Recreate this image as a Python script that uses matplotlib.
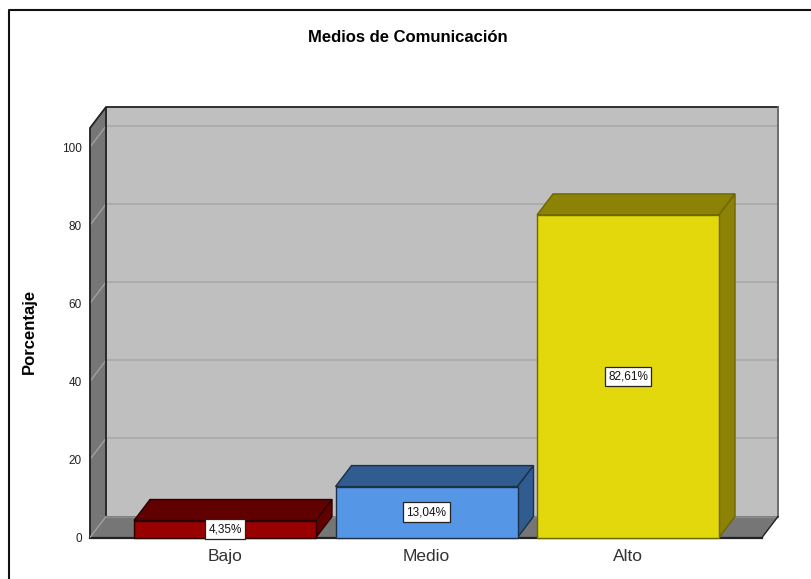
import matplotlib
matplotlib.use('Agg')
import matplotlib.pyplot as plt
from matplotlib.lines import Line2D
from matplotlib.patches import Polygon

plt.rcParams['font.family'] = ['Liberation Sans', 'DejaVu Sans']

# datos
categorias = ['Bajo', 'Medio', 'Alto']
porcentajes = [4.35, 13.04, 82.61]
etiquetas = ['4,35%', '13,04%', '82,61%']
ticks_y = [0, 20, 40, 60, 80, 100]
col_frente = ['#990000', '#5596e6', '#e3d80c']
col_lado = ['#600000', '#305c90', '#8c8205']
borde = ['#2a0000', '#1c3048', '#6e6600']

W, H = 812, 579
fig = plt.figure(figsize=(W / 100, H / 100), dpi=100)

# ejes en pixeles: frente abajo-izq (90,537.5), fondo arriba-der (778,107)
ax = fig.add_axes([90 / W, 1 - 537.5 / H, (778 - 90) / W, (537.5 - 107) / H])
px_x = 201.5
px_y = 3.905
ax.set_xlim(-135 / px_x, (778 - 225) / px_x)
ax.set_ylim(0, 430.5 / px_y)

# profundidad 3D en unidades de datos
dx = 16 / px_x
dy = 21 / px_y
x0, x1 = ax.get_xlim()
techo = ax.get_ylim()[1]
xf = x1 - dx  # borde derecho del frente
ancho = 182 / px_x


def poly(puntos, color, ec, lw=1.0, z=2):
    ax.add_patch(Polygon(puntos, closed=True, fc=color, ec=ec, lw=lw, zorder=z, clip_on=False))


# paredes
poly([(x0 + dx, dy), (x1, dy), (x1, techo), (x0 + dx, techo)], '#bfbfbf', '#bfbfbf', 0.5, 1)
poly([(x0, 0), (x0 + dx, dy), (x0 + dx, techo), (x0, techo - dy)], '#767676', '#767676', 0.5, 1)
poly([(x0, 0), (xf, 0), (x1, dy), (x0 + dx, dy)], '#767676', '#767676', 0.5, 1)

# lineas de rejilla
for t in ticks_y[1:]:
    ax.plot([x0 + dx, x1], [t + dy, t + dy], color='#a9a9a9', lw=1.2, zorder=1.5)
    ax.plot([x0, x0 + dx], [t, t + dy], color='#a0a0a0', lw=1.0, zorder=1.5)

# bordes de las paredes
ax.plot([x0, x0, x0 + dx, x1], [0, techo - dy, techo, techo], color='#222222', lw=1.3, zorder=1.6, clip_on=False)
ax.plot([x0 + dx, x0 + dx], [dy, techo], color='#222222', lw=1.3, zorder=1.6)
ax.plot([x0 + dx, x1], [dy, dy], color='#8a8a8a', lw=1.0, zorder=1.6)
ax.plot([x1, x1], [dy, techo], color='#666666', lw=1.3, zorder=1.6, clip_on=False)
ax.plot([x1, xf], [dy, 0], color='#222222', lw=1.0, zorder=1.6, clip_on=False)
ax.plot([x0, xf], [0, 0], color='#222222', lw=1.6, zorder=1.6, clip_on=False)
ax.plot([x0, x0 + dx], [0, dy], color='#a0a0a0', lw=1.0, zorder=1.6)

# barras
for i, v in enumerate(porcentajes):
    a = i - ancho / 2
    b = i + ancho / 2
    poly([(a, v), (b, v), (b + dx, v + dy), (a + dx, v + dy)], col_lado[i], borde[i], 1.0, 3)
    poly([(b, 0), (b + dx, dy), (b + dx, v + dy), (b, v)], col_lado[i], borde[i], 1.0, 3)
    poly([(a, 0), (b, 0), (b, v), (a, v)], col_frente[i], borde[i], 1.0, 4)
    ax.text(i, v / 2, etiquetas[i], ha='center', va='center', fontsize=8.5, color='#111111', zorder=5,
            bbox=dict(boxstyle='square,pad=0.3', fc='white', ec='#222222', lw=0.9))

ax.set_xticks(range(len(categorias)))
ax.set_xticklabels(categorias, fontsize=12.5, color='#333333')
ax.set_yticks(ticks_y)
ax.set_yticklabels([str(t) for t in ticks_y], fontsize=8.5, color='#222222')
ax.tick_params(length=0, pad=6)
ax.tick_params(axis='x', pad=8)
for s in ax.spines.values():
    s.set_visible(False)

ax.set_ylabel('Porcentaje', fontsize=12, fontweight='bold', labelpad=0)
ax.yaxis.set_label_coords((37 - 90) / (778 - 90), (537.5 - 331) / 430.5)
fig.text(408 / W, 1 - 37 / H, 'Medios de Comunicación', ha='center', va='center', fontsize=12, fontweight='bold')

# marco exterior
fig.add_artist(Line2D([9.5 / W, 9.5 / W, 1], [0, 1 - 9.5 / H, 1 - 9.5 / H], color='#111111', lw=1.5))

fig.savefig('out.png', dpi=100)
